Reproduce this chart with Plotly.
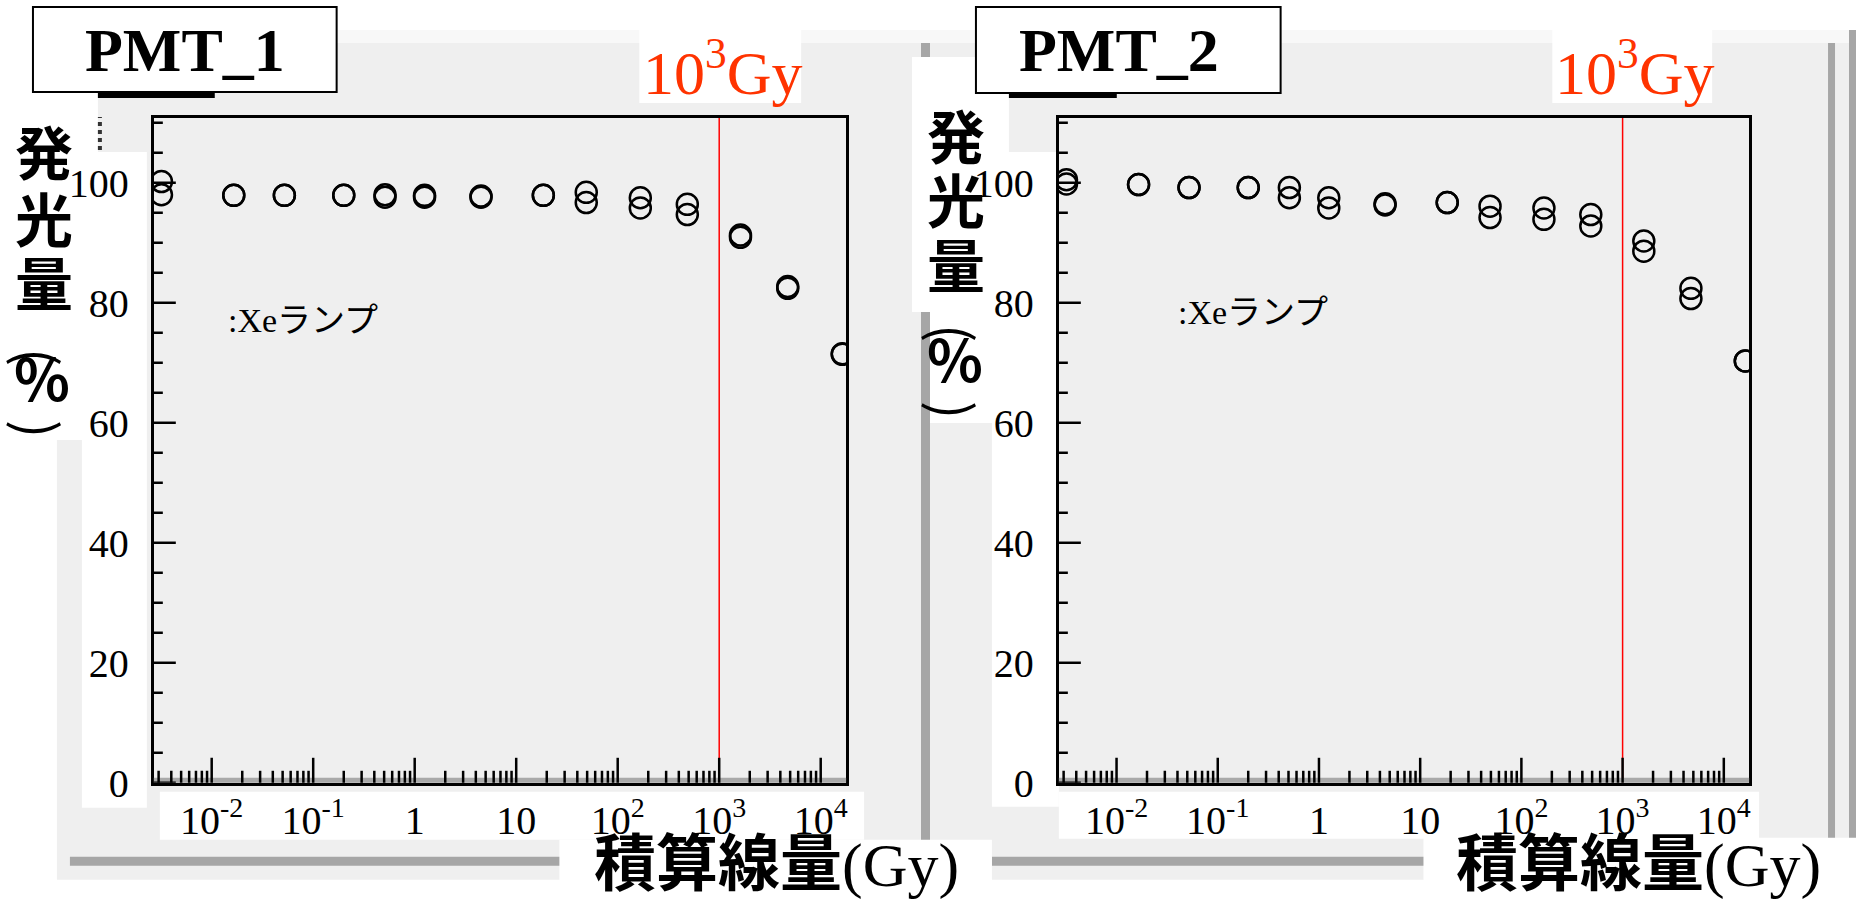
import plotly.graph_objects as go

# ---- data -------------------------------------------------------------
dose_gy = [0.0032, 0.0165, 0.052, 0.20, 0.51, 1.25, 4.5, 18.5, 49, 167, 485, 1620, 4730, 16300]

pmt1_run_a = [100.2, 97.9, 97.9, 97.9, 98.0, 97.9, 97.8, 97.9, 98.4, 97.5, 96.4, 91.3, 82.7, 71.5]
pmt1_run_b = [98.0, 97.9, 97.9, 97.9, 97.6, 97.6, 97.6, 97.9, 96.7, 95.8, 94.7, 90.9, 82.4, 71.4]

pmt2_run_a = [100.5, 99.7, 99.2, 99.2, 99.2, 97.5, 96.5, 96.7, 96.1, 95.8, 94.7, 90.3, 82.4, 70.3]
pmt2_run_b = [99.8, 99.7, 99.2, 99.2, 97.5, 95.8, 96.3, 96.7, 94.2, 93.9, 92.8, 88.6, 80.7, 70.3]

x_tick_vals = [0.01, 0.1, 1, 10, 100, 1000, 10000]
x_tick_text = ["10<sup>-2</sup>", "10<sup>-1</sup>", "1", "10",
               "10<sup>2</sup>", "10<sup>3</sup>", "10<sup>4</sup>"]
y_tick_vals = [0, 20, 40, 60, 80, 100]
y_minor_vals = [5, 10, 15, 25, 30, 35, 45, 50, 55, 65, 70, 75, 85, 90, 95, 105, 110]

limit_dose = 1000          # 10^3 Gy reference line
panel_titles = ["PMT_1", "PMT_2"]
limit_label = "10<sup>3</sup>Gy"
lamp_label = ":Xeランプ"
y_title_parts = ["発", "光", "量", "(", "%", ")"]
x_title = "<b>積算線量</b>(Gy)"

# ---- page geometry (pixels) ------------------------------------------
W, H = 1858, 910
VS = 0.975                 # vertical scale of the page layout grid
Y_MAX = 110.8
X_RANGE = [-2.57, 4.25]
PLOT_TOP, PLOT_BOTTOM = 118, 783


def px(x):
    return x / W


def py(y):
    return max(0.0, 1 - (y / VS) / H)


SERIF = "Liberation Serif, Noto Sans CJK JP"
CJK = "Noto Sans CJK JP"
CANVAS = "#efefef"
BAR = "#a6a6a6"
RED_TEXT = "#ff3300"

fig = go.Figure()

panels = [
    dict(xa="x", ya="y", dom=(154, 847), a=pmt1_run_a, b=pmt1_run_b),
    dict(xa="x2", ya="y2", dom=(1060, 1751), a=pmt2_run_a, b=pmt2_run_b),
]

minor_x = [m * 10.0 ** e for e in range(-3, 5) for m in range(2, 10)
           if 10 ** X_RANGE[0] < m * 10.0 ** e < 10 ** X_RANGE[1]]
y_dom = [py(PLOT_BOTTOM), py(PLOT_TOP)]

layout_axes = {}
shapes = []

for p in panels:
    xm, ym = p["xa"], p["ya"]
    sx, sy = xm[1:], ym[1:]
    plot_w = p["dom"][1] - p["dom"][0]
    plot_h = PLOT_BOTTOM - PLOT_TOP

    layout_axes["xaxis" + sx] = dict(
        domain=[px(p["dom"][0]), px(p["dom"][1])], anchor=ym,
        type="log", range=X_RANGE, tickmode="array", tickvals=x_tick_vals,
        ticktext=x_tick_text, ticks="", showline=True, linewidth=3,
        linecolor="black", mirror=True, showgrid=False, zeroline=False,
        tickfont=dict(family=SERIF, size=40, color="black"),
        ticklabelstandoff=0)
    layout_axes["yaxis" + sy] = dict(
        domain=y_dom, anchor=xm, range=[0, Y_MAX], tickmode="array",
        tickvals=y_tick_vals, ticks="", showline=True, linewidth=3,
        linecolor="black", mirror=True, showgrid=False, zeroline=False,
        tickfont=dict(family=SERIF, size=40, color="black"),
        ticklabelstandoff=14)

    for series in (p["a"], p["b"]):
        fig.add_trace(go.Scatter(
            x=dose_gy, y=series, mode="markers", xaxis=xm, yaxis=ym,
            marker=dict(symbol="circle-open", size=21, color="black",
                        line=dict(width=2.5, color="black")),
            showlegend=False, hoverinfo="x+y"))
    fig.add_trace(go.Scatter(
        x=[limit_dose, limit_dose], y=[0, Y_MAX], mode="lines",
        xaxis=xm, yaxis=ym, line=dict(color="#ff0000", width=1.5),
        showlegend=False, hoverinfo="skip"))

    # grey shading just above the bottom edge of the frame
    shapes.append(dict(
        type="rect", layer="above", xref=xm + " domain", yref=ym + " domain",
        x0=0, x1=1, y0=0, y1=5 / plot_h, fillcolor="#a9a9a9",
        line=dict(width=0)))

    # inward tick marks along the bottom and left edges of the frame
    for vals, length in ((x_tick_vals, 25), (minor_x, 12)):
        for v in vals:
            shapes.append(dict(
                type="line", layer="above", xref=xm, yref=ym + " domain",
                x0=v, x1=v, y0=0, y1=length / plot_h,
                line=dict(color="black", width=2.5)))
    for vals, length in ((y_tick_vals, 22), (y_minor_vals, 9)):
        for v in vals:
            shapes.append(dict(
                type="line", layer="above", xref=xm + " domain", yref=ym,
                x0=0, x1=length / plot_w, y0=v, y1=v,
                line=dict(color="black", width=2.5)))

fig.update_layout(**layout_axes)


def rect(x0, y0, x1, y1, fill, line=None):
    shapes.append(dict(
        type="rect", xref="paper", yref="paper", layer="below",
        x0=px(x0), x1=px(x1), y0=py(y1), y1=py(y0), fillcolor=fill,
        line=line or dict(width=0)))


# canvas frames behind both plots
rect(57, 30, 931, 880, CANVAS)
rect(337, 30, 931, 43, "#f8f8f8")
rect(922, 43, 931, 866, BAR)
rect(70, 857, 931, 866, BAR)
rect(931, 30, 1858, 880, CANVAS)
rect(931, 30, 1858, 43, "#f8f8f8")
rect(1830, 43, 1837, 866, BAR)
rect(1851, 30, 1858, 880, BAR)
rect(993, 857, 1837, 866, BAR)

# white label backdrops, left panel
rect(0, 93, 98, 440, "white")
rect(82, 152, 147, 808, "white")
rect(160, 792, 865, 840, "white")
rect(560, 840, 993, 910, "white")
rect(640, 30, 802, 103, "white")
rect(98, 92, 215, 98, "black")
rect(33, 7, 337, 92, "white", dict(color="black", width=2))

# white label backdrops, right panel
rect(913, 57, 1010, 312, "white")
rect(931, 152, 1060, 423, "white")
rect(993, 152, 1060, 807, "white")
rect(1060, 792, 1761, 839, "white")
rect(1425, 838, 1858, 910, "white")
rect(1554, 30, 1714, 103, "white")
rect(1010, 93, 1118, 98, "black")
rect(977, 7, 1282, 93, "white", dict(color="black", width=2))

# small dotted stub at the upper left of the first canvas
shapes.append(dict(
    type="line", xref="paper", yref="paper", layer="above",
    x0=px(100), x1=px(100), y0=py(150), y1=py(117),
    line=dict(color="#333333", width=4, dash="dot")))

annotations = []


def text(x, y, s, size, family=SERIF, color="black", angle=0):
    annotations.append(dict(
        xref="paper", yref="paper", x=px(x), y=py(y), text=s, showarrow=False,
        xanchor="center", yanchor="middle", textangle=angle,
        font=dict(family=family, size=size, color=color)))


label_pos = [
    dict(title=(185, 50), limit=(723, 68), lamp=(303, 321), xtitle=(777, 866),
         ychars=[(44, 150), (44, 217), (44, 281), (40, 357), (42, 376), (40, 429)]),
    dict(title=(1120, 50), limit=(1636, 68), lamp=(1254, 313), xtitle=(1640, 866),
         ychars=[(957, 134), (957, 198), (957, 263), (956, 333), (956, 357), (956, 410)]),
]

for name, pos in zip(panel_titles, label_pos):
    text(*pos["title"], f"<b>{name}</b>", 62)
    text(*pos["limit"], limit_label, 62, color=RED_TEXT)
    text(*pos["lamp"], lamp_label, 34)
    text(*pos["xtitle"], x_title, 62)
    for ch, (cx, cy) in zip(y_title_parts, pos["ychars"]):
        if ch in "()":
            text(cx, cy, ch, 54, family=CJK, angle=90)
        else:
            text(cx, cy, f"<b>{ch}</b>", 58, family=CJK)

fig.update_layout(
    width=W, height=H, autosize=False,
    margin=dict(l=0, r=0, t=0, b=0),
    paper_bgcolor="white", plot_bgcolor=CANVAS,
    shapes=shapes, annotations=annotations,
)

fig.write_html("out.html")
